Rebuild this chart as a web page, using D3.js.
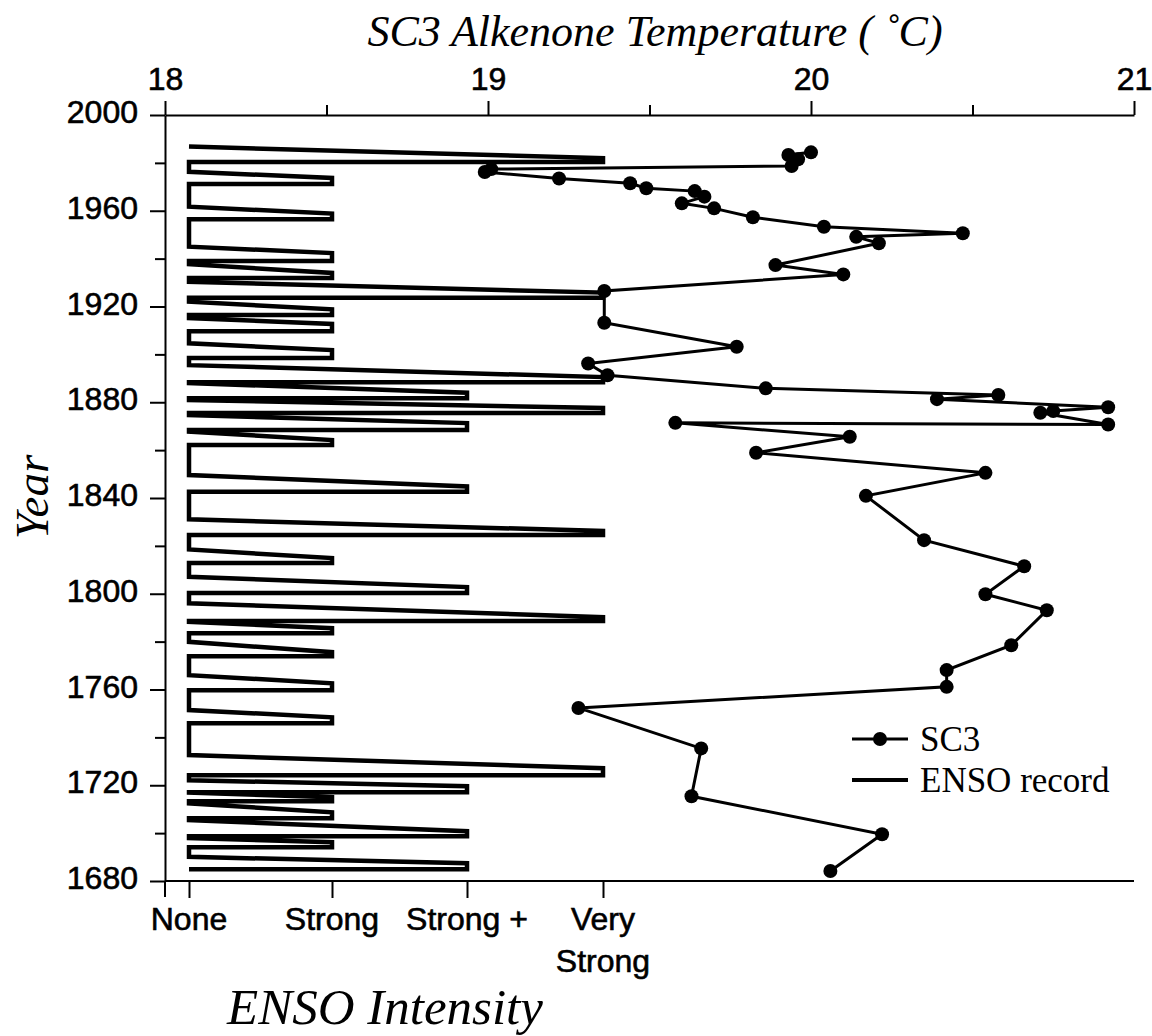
<!DOCTYPE html>
<html>
<head>
<meta charset="utf-8">
<script src="https://cdn.jsdelivr.net/npm/d3@7"></script>
<style>
  body { margin: 0; background: #fff; }
  svg { display: block; }
  .sans { font-family: "Liberation Sans", Arial, Helvetica, sans-serif; font-size: 32px; fill: #000; stroke: #000; stroke-width: 0.6px; }
  .serif { font-family: "Liberation Serif", "Times New Roman", Times, serif; fill: #000; }
</style>
</head>
<body>
<svg id="chart" width="1152" height="1036"></svg>
<script>
// axis ticks
const yearMajorTicks = [1680, 1720, 1760, 1800, 1840, 1880, 1920, 1960, 2000]
const yearMinorTicks = [1700, 1740, 1780, 1820, 1860, 1900, 1940, 1980]
const tempMajorTicks = [18, 19, 20, 21]
const tempMinorTicks = [18.5, 19.5, 20.5]
const intensityLevels = ['None', 'Strong', 'Strong +', 'Very Strong']
const intensityLabels = [['None'], ['Strong'], ['Strong +'], ['Very', 'Strong']]

// SC3 alkenone temperatures, in plotting order
const sc3Year = [1984.4, 1983.3, 1981.5, 1978.7, 1977.4, 1976.2, 1973.5, 1971.5, 1969.4, 1968.2,
  1965.9, 1963.1, 1961.0, 1957.3, 1953.3, 1950.6, 1949.1, 1946.4, 1937.3, 1933.4,
  1926.5, 1913.2, 1903.2, 1896.2, 1891.3, 1885.8, 1883.0, 1881.3, 1877.9, 1876.3,
  1875.6, 1870.7, 1871.4, 1865.6, 1858.9, 1850.5, 1840.9, 1822.4, 1811.5, 1799.8,
  1793.1, 1778.5, 1768.1, 1761.1, 1752.3, 1735.4, 1715.4, 1699.5, 1684.2]
const sc3Temp = [20.00, 19.93, 19.96, 19.94, 19.01, 18.99, 19.22, 19.44, 19.49, 19.64,
  19.67, 19.60, 19.70, 19.82, 20.04, 20.47, 20.14, 20.21, 19.89, 20.10,
  19.36, 19.36, 19.77, 19.31, 19.37, 19.86, 20.58, 20.39, 20.92, 20.75,
  20.71, 20.92, 19.58, 20.12, 19.83, 20.54, 20.17, 20.35, 20.66, 20.54,
  20.73, 20.62, 20.42, 20.42, 19.28, 19.66, 19.63, 20.22, 20.06]

// ENSO record: each event leaves "None" at start, reaches its intensity at peak, holds to end
const ensoStart = [1986.8, 1976.3, 1961.7, 1945.0, 1937.7, 1930.3, 1922.0, 1915.2, 1904.6, 1895.5,
  1888.0, 1880.9, 1874.6, 1867.7, 1849.6, 1831.1, 1818.5, 1807.1, 1796.0, 1788.3,
  1779.9, 1766.0, 1751.4, 1732.6, 1722.1, 1716.9, 1712.4, 1705.4, 1697.9, 1690.1]
const ensoPeak = [1982.0, 1973.7, 1958.8, 1942.3, 1934.0, 1925.8, 1918.8, 1912.7, 1901.8, 1890.5,
  1884.0, 1877.6, 1871.3, 1864.2, 1844.8, 1826.2, 1814.9, 1802.8, 1790.2, 1785.6,
  1775.6, 1762.6, 1748.4, 1727.1, 1719.6, 1715.0, 1708.7, 1700.8, 1696.2, 1687.4]
const ensoEnd = [1980.4, 1971.2, 1956.5, 1939.0, 1931.9, 1923.7, 1916.4, 1909.7, 1898.5, 1888.4,
  1881.7, 1875.5, 1868.4, 1862.1, 1842.6, 1824.5, 1812.8, 1800.3, 1788.6, 1783.5,
  1773.9, 1759.7, 1745.9, 1724.2, 1717.1, 1713.3, 1706.2, 1698.7, 1694.1, 1684.9]
const ensoLevel = [3, 1, 1, 1, 1, 3, 1, 1, 1, 3,
  2, 3, 2, 1, 2, 3, 1, 2, 3, 1,
  1, 1, 1, 3, 2, 1, 1, 2, 1, 2]

const svg = d3.select('#chart')

const x = d3.scaleLinear().domain([18, 21]).range([165, 1134])
const y = d3.scaleLinear().domain([1680, 2000]).range([881, 115])
const enso = d3.scaleOrdinal().domain(intensityLevels).range([189, 332, 467, 603])

const styleAxis = g => {
  g.selectAll('path, line').attr('stroke', '#000').attr('stroke-width', 2)
  g.selectAll('text').attr('class', 'sans')
}

// top temperature axis
svg.append('g')
  .attr('transform', `translate(0,${y(2000)})`)
  .call(d3.axisTop(x).tickValues(tempMajorTicks).tickSize(14).tickSizeOuter(0).tickPadding(11).tickFormat(d3.format('d')))
  .call(styleAxis)
svg.append('g')
  .attr('transform', `translate(0,${y(2000)})`)
  .call(d3.axisTop(x).tickValues(tempMinorTicks).tickSize(10).tickFormat(''))
  .call(g => g.select('.domain').remove())
  .call(styleAxis)

// left year axis
svg.append('g')
  .attr('transform', `translate(${x(18)},0)`)
  .call(d3.axisLeft(y).tickValues(yearMajorTicks).tickSize(15).tickSizeOuter(0).tickPadding(12).tickFormat(d3.format('d')))
  .call(styleAxis)
  .call(g => g.selectAll('text').attr('dy', '0.24em'))
svg.append('g')
  .attr('transform', `translate(${x(18)},0)`)
  .call(d3.axisLeft(y).tickValues(yearMinorTicks).tickSize(10).tickFormat(''))
  .call(g => g.select('.domain').remove())
  .call(styleAxis)

// bottom ENSO intensity axis
const bottom = svg.append('g').attr('transform', `translate(0,${y(1680)})`)
bottom.append('line')
  .attr('x1', x(18)).attr('x2', x(21))
  .attr('stroke', '#000').attr('stroke-width', 2)
bottom.append('line')
  .attr('x1', x(18)).attr('x2', x(18)).attr('y1', 0).attr('y2', 16)
  .attr('stroke', '#000').attr('stroke-width', 2)
bottom.append('g')
  .call(d3.axisBottom(enso).tickSize(17).tickFormat(''))
  .call(g => g.select('.domain').remove())
  .call(styleAxis)

const labels = bottom.selectAll('text.level')
  .data(intensityLevels)
  .join('text')
  .attr('class', 'sans level')
  .attr('text-anchor', 'middle')
  .attr('y', 49)
labels.selectAll('tspan')
  .data((d, i) => intensityLabels[i].map(t => ({ t, lv: d })))
  .join('tspan')
  .attr('x', d => enso(d.lv))
  .attr('dy', (d, i) => i === 0 ? 0 : 42)
  .text(d => d.t)

// ENSO record zigzag
const ensoPoints = []
ensoStart.forEach((s, i) => {
  const lv = intensityLevels[ensoLevel[i]]
  ensoPoints.push([enso('None'), y(s)])
  ensoPoints.push([enso(lv), y(ensoPeak[i])])
  ensoPoints.push([enso(lv), y(ensoEnd[i])])
  ensoPoints.push([enso('None'), y(ensoEnd[i])])
})
svg.append('path')
  .attr('d', d3.line()(ensoPoints))
  .attr('fill', 'none')
  .attr('stroke', '#000')
  .attr('stroke-width', 4.5)
  .attr('stroke-linejoin', 'miter')

// SC3 series
const sc3 = sc3Year.map((yr, i) => ({ yr, t: sc3Temp[i] }))
svg.append('path')
  .datum(sc3)
  .attr('d', d3.line().x(d => x(d.t)).y(d => y(d.yr)))
  .attr('fill', 'none')
  .attr('stroke', '#000')
  .attr('stroke-width', 3)
svg.append('g')
  .selectAll('circle')
  .data(sc3)
  .join('circle')
  .attr('cx', d => x(d.t))
  .attr('cy', d => y(d.yr))
  .attr('r', 7)
  .attr('fill', '#000')

// titles
svg.append('text')
  .attr('class', 'serif')
  .attr('x', 655).attr('y', 46)
  .attr('text-anchor', 'middle')
  .style('font-size', '44px').style('font-style', 'italic')
  .text('SC3 Alkenone Temperature ( \u02DAC)')
svg.append('text')
  .attr('class', 'serif')
  .attr('transform', 'translate(48,497) rotate(-90)')
  .attr('text-anchor', 'middle')
  .style('font-size', '47px').style('font-style', 'italic')
  .text('Year')
svg.append('text')
  .attr('class', 'serif')
  .attr('x', 385).attr('y', 1024)
  .attr('text-anchor', 'middle')
  .style('font-size', '51px').style('font-style', 'italic')
  .text('ENSO Intensity')

// legend
const legend = svg.append('g').attr('transform', 'translate(852,0)')
legend.append('line')
  .attr('x1', 0).attr('x2', 56).attr('y1', 739).attr('y2', 739)
  .attr('stroke', '#000').attr('stroke-width', 3)
legend.append('circle').attr('cx', 28).attr('cy', 739).attr('r', 7).attr('fill', '#000')
legend.append('text').attr('class', 'serif')
  .attr('x', 68).attr('y', 751).style('font-size', '35px').text('SC3')
legend.append('line')
  .attr('x1', 0).attr('x2', 56).attr('y1', 780).attr('y2', 780)
  .attr('stroke', '#000').attr('stroke-width', 4)
legend.append('text').attr('class', 'serif')
  .attr('x', 68).attr('y', 792).style('font-size', '35px').text('ENSO record')
</script>
</body>
</html>
